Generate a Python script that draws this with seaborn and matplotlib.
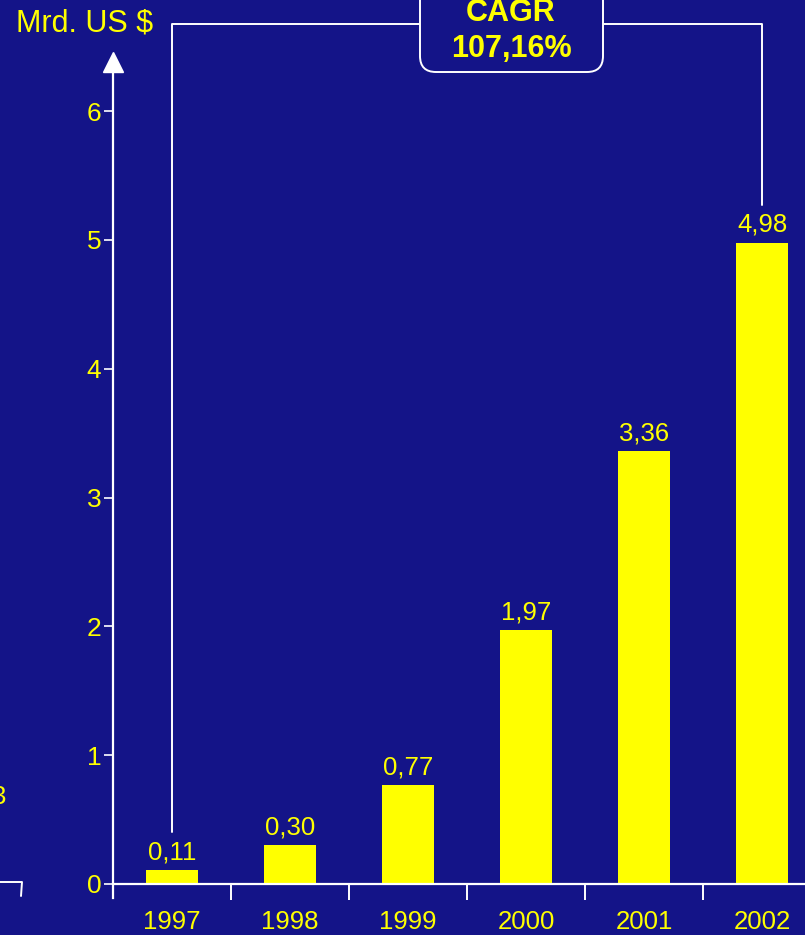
import matplotlib
matplotlib.use("Agg")
import matplotlib.pyplot as plt
import matplotlib.patches as mpatches
from matplotlib.lines import Line2D
import pandas as pd
import seaborn as sns

years = ["1997", "1998", "1999", "2000", "2001", "2002"]
values = [0.11, 0.30, 0.77, 1.97, 3.36, 4.98]
y_ticks = [0, 1, 2, 3, 4, 5, 6]
cagr_label = "CAGR\n107,16%"
unit_label = "Mrd. US $"

bg = "#141488"
yellow = "#FFFF00"

sns.set_style("white")
plt.rcParams["font.family"] = ["Liberation Sans", "DejaVu Sans"]

data = pd.DataFrame({"Jahr": years, "Wert": values})

fig = plt.figure(figsize=(8.05, 9.35), dpi=100, facecolor=bg)
ax = fig.add_axes([113 / 805, 37 / 935, 692 / 805, 836 / 935])
ax.set_facecolor(bg)

sns.barplot(data=data, x="Jahr", y="Wert", order=years, color=yellow,
            saturation=1, width=0.44, linewidth=0, ax=ax)

ax.set_xlim(-0.5, 5.364)
ax.set_ylim(-0.11, 6.382)

# value labels with german decimal comma
ax.bar_label(ax.containers[0], labels=[f"{v:.2f}".replace(".", ",") for v in values],
             padding=4, color=yellow, fontsize=18.5)

# axes styling
for s in ["top", "right"]:
    ax.spines[s].set_visible(False)
ax.spines["bottom"].set_position(("data", 0))
for s in ["left", "bottom"]:
    ax.spines[s].set_color("white")
    ax.spines[s].set_linewidth(1.6)
    ax.spines[s].set_zorder(3)

ax.set_yticks(y_ticks)
ax.set_yticklabels([str(t) for t in y_ticks])
ax.tick_params(axis="y", left=True, colors="white", labelcolor=yellow,
               labelsize=19, length=6.5, width=1.2, pad=2, direction="out")
ax.set_xticks(range(len(years)))
ax.set_xticklabels(years)
ax.set_xticks([i + 0.5 for i in range(len(years) - 1)], minor=True)
ax.tick_params(axis="x", which="major", bottom=True, length=0,
               labelcolor=yellow, labelsize=18.5, pad=19)
ax.tick_params(axis="x", which="minor", bottom=True, length=11.5, width=1.4,
               colors="white", direction="out")
ax.set_xlabel("")
ax.set_ylabel("")

# arrow head on the y axis
ax.plot([-0.5], [1.0], marker="^", markersize=15, color="white",
        transform=ax.get_xaxis_transform(), clip_on=False, zorder=4)

# CAGR bracket from first to last bar
top = 6.68
ax.plot([0, 0, 5, 5], [values[0] + 0.29, top, top, values[-1] + 0.29],
        color="white", lw=1.4, clip_on=False, zorder=3)
box = mpatches.FancyBboxPatch((4.20, 8.63), 1.83, 1.0,
                              boxstyle="round,pad=0,rounding_size=0.16",
                              transform=fig.dpi_scale_trans, facecolor=bg,
                              edgecolor="white", lw=1.4, zorder=5)
fig.patches.append(box)
fig.text(511 / 805, (935 - 31) / 935, cagr_label, color=yellow, fontsize=22,
         fontweight="bold", ha="center", va="center", linespacing=1.25, zorder=6)

fig.text(16 / 805, (935 - 24) / 935, unit_label, color=yellow, fontsize=22,
         ha="left", va="center")

# remnants of the neighbouring chart at the left edge
fig.text(6 / 805, (935 - 797) / 935, "3", color=yellow, fontsize=18.5,
         ha="right", va="center")
fig.lines.append(Line2D([0, 22 / 805, 21 / 805],
                        [(935 - 882) / 935, (935 - 882) / 935, (935 - 896) / 935],
                        transform=fig.transFigure, color="white", lw=1.4))

fig.savefig("out.png", dpi=100, facecolor=bg)
